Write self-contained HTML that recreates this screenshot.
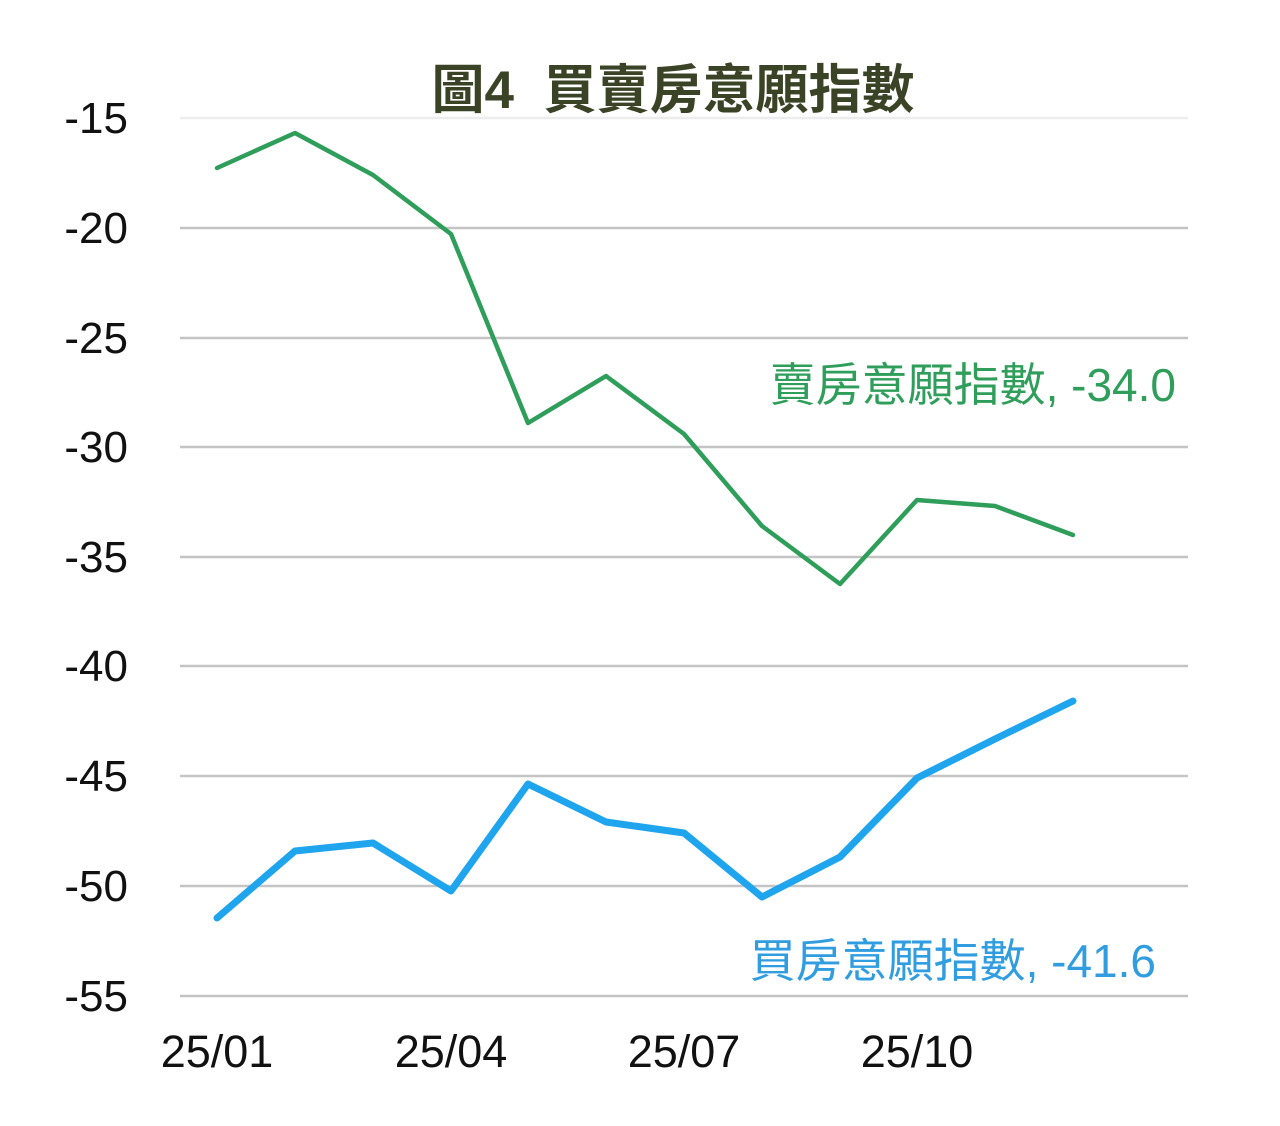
<!DOCTYPE html>
<html><head><meta charset="utf-8"><style>
html,body{margin:0;padding:0;background:#fff;}
svg{display:block;}
</style></head><body>
<svg width="1280" height="1126" xmlns="http://www.w3.org/2000/svg">
<rect width="1280" height="1126" fill="#fff"/>
<text x="673" y="108" text-anchor="middle" font-family="Liberation Sans, Noto Sans CJK TC, sans-serif" font-size="53" font-weight="bold" fill="#3b4326" xml:space="preserve">圖4  買賣房意願指數</text>
<g stroke="#c4c4c4" stroke-width="2.5">
<line x1="180" y1="118" x2="1188" y2="118" stroke="#ececec"/>
<line x1="180" y1="228" x2="1188" y2="228"/>
<line x1="180" y1="338" x2="1188" y2="338"/>
<line x1="180" y1="447" x2="1188" y2="447"/>
<line x1="180" y1="557" x2="1188" y2="557"/>
<line x1="180" y1="666" x2="1188" y2="666"/>
<line x1="180" y1="776" x2="1188" y2="776"/>
<line x1="180" y1="886" x2="1188" y2="886"/>
<line x1="180" y1="996" x2="1188" y2="996"/>
</g>
<g font-family="Liberation Sans, sans-serif" font-size="44" fill="#111" text-anchor="end">
<text x="128" y="133">-15</text>
<text x="128" y="243">-20</text>
<text x="128" y="353">-25</text>
<text x="128" y="462">-30</text>
<text x="128" y="572">-35</text>
<text x="128" y="681">-40</text>
<text x="128" y="791">-45</text>
<text x="128" y="901">-50</text>
<text x="128" y="1011">-55</text>
</g>
<g font-family="Liberation Sans, sans-serif" font-size="45" fill="#111" text-anchor="middle">
<text x="217" y="1067">25/01</text>
<text x="451" y="1067">25/04</text>
<text x="684" y="1067">25/07</text>
<text x="917" y="1067">25/10</text>
</g>
<polyline fill="none" stroke="#2e9e5a" stroke-width="4.5" stroke-linejoin="round" stroke-linecap="round"
points="217,168 295,133 373,175 451,234 528,423 606,376 684,434 762,526 840,584 917,500 995,506 1073,535"/>
<polyline fill="none" stroke="#1ea5ee" stroke-width="7" stroke-linejoin="round" stroke-linecap="round"
points="217,918 295,851 373,843 451,891 528,784 606,822 684,833 762,897 840,857 917,778 995,739 1073,701"/>
<text x="1176" y="401" text-anchor="end" font-family="Liberation Sans, Noto Sans CJK TC, sans-serif" font-size="46" fill="#2e9e5a">賣房意願指數, -34.0</text>
<text x="1156" y="977" text-anchor="end" font-family="Liberation Sans, Noto Sans CJK TC, sans-serif" font-size="46" fill="#2f9ddf">買房意願指數, -41.6</text>
</svg>
</body></html>
